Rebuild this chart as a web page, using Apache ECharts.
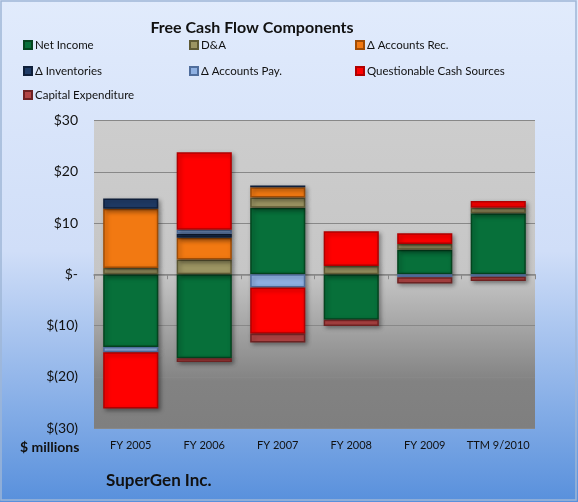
<!DOCTYPE html>
<html>
<head>
<meta charset="utf-8">
<script src="https://cdn.jsdelivr.net/npm/echarts@6/dist/echarts.min.js"></script>
<style>
html,body{margin:0;padding:0;}
body{width:578px;height:502px;overflow:hidden;}
#c{width:578px;height:502px;}
</style>
</head>
<body>
<div id="c"></div>
<script>
const categories = ['FY 2005','FY 2006','FY 2007','FY 2008','FY 2009','TTM 9/2010'];
const netIncome   = [-14.2, -16.4, 13.0, -8.9, 4.8, 11.9];
const dAndA       = [1.2, 2.9, 2.0, 1.6, 1.1, 1.1];
const accountsRec = [11.6, 4.2, 2.0, 0, 0, 0];
const inventories = [2.0, 0.8, 0.3, 0, 0, 0];
const accountsPay = [-1.0, 0.8, -2.6, 0, -0.6, -0.5];
const questionable = [-11.0, 15.1, -9.0, 6.8, 2.1, 1.3];
const capex       = [0, -0.7, -1.7, -1.2, -1.2, -0.8];
const yTicks = [-30, -20, -10, 0, 10, 20, 30];

const FONT = 'Lato';
const seriesDefs = [
  ['Net Income', netIncome, '#07703a', '#04451f'],
  ['D&A', dAndA, '#9c9563', '#5f5a35'],
  ['Δ Accounts Rec.', accountsRec, '#f27912', '#a04c05'],
  ['Δ Inventories', inventories, '#1f3b66', '#0f1f3a'],
  ['Δ Accounts Pay.', accountsPay, '#8eb0e2', '#4f6d9c'],
  ['Questionable Cash Sources', questionable, '#ff0000', '#b00000'],
  ['Capital Expenditure', capex, '#b24545', '#6e2222']
];

const series = seriesDefs.map(([name, vals, col, bcol]) => ({
  name: name,
  type: 'bar',
  stack: 'fcf',
  xAxisIndex: 0,
  barWidth: '75%',
  data: vals.map(v => v === 0 ? '-' : v),
  itemStyle: {
    color: col,
    borderColor: bcol,
    borderWidth: 1.5,
    shadowBlur: 4,
    shadowOffsetX: 2,
    shadowOffsetY: 2,
    shadowColor: 'rgba(0,0,0,0.35)'
  }
}));

// legend positions (3 columns)
const legendPos = [
  [18, 34], [184, 34], [350, 34],
  [18, 60], [184, 60], [350, 60],
  [18, 84]
];
const legends = seriesDefs.map(([name], i) => ({
  data: [name],
  left: legendPos[i][0],
  top: legendPos[i][1],
  itemWidth: 8,
  itemHeight: 8,
  itemGap: 2,
  icon: 'rect',
  selectedMode: false,
  textStyle: { fontFamily: FONT, fontSize: 11.5, color: '#111', padding: [0, 0, 0, -2] }
}));

const fmt = v => v === 0 ? '$-' : (v < 0 ? '$(' + (-v) + ')' : '$' + v);

const chart = echarts.init(document.getElementById('c'), null, { renderer: 'canvas' });
chart.setOption({
  animation: false,
  backgroundColor: {
    type: 'linear', x: 0, y: 0, x2: 0, y2: 1,
    colorStops: [
      { offset: 0, color: '#e1ebfc' },
      { offset: 0.5, color: '#d0def8' },
      { offset: 1, color: '#5890dc' }
    ]
  },
  title: {
    text: 'Free Cash Flow Components',
    left: 247, top: 15, textAlign: 'center',
    textStyle: { fontFamily: FONT, fontSize: 16, fontWeight: 'bold', color: '#111' }
  },
  legend: legends,
  grid: {
    left: 94, right: 43, top: 120.5, bottom: 74,
    show: true,
    borderWidth: 0,
    backgroundColor: {
      type: 'linear', x: 0, y: 0, x2: 0, y2: 1,
      colorStops: [
        { offset: 0, color: '#cdcdcd' },
        { offset: 0.5, color: '#c6c6c6' },
        { offset: 0.85, color: '#828282' },
        { offset: 1, color: '#7f7f7f' }
      ]
    }
  },
  xAxis: [
    {
      type: 'category', data: categories,
      axisLine: { show: false, onZero: false },
      axisTick: { show: false },
      axisLabel: { fontFamily: FONT, fontSize: 11, color: '#111', margin: 12, interval: 0 }
    },
    {
      type: 'category', data: categories,
      position: 'bottom',
      axisLine: { show: true, onZero: true, lineStyle: { color: '#888', width: 1.5 } },
      axisTick: { show: true, length: 5, interval: 0, lineStyle: { color: '#888' } },
      axisLabel: { show: false }
    }
  ],
  yAxis: {
    type: 'value', min: -30, max: 30, interval: 10,
    axisLine: { show: false },
    axisTick: { show: false },
    splitLine: { lineStyle: { color: '#888', width: 1.2 } },
    axisLabel: {
      fontFamily: FONT, fontSize: 14, color: '#111', margin: 16,
      formatter: v => yTicks.includes(v) ? fmt(v) : ''
    }
  },
  graphic: [
    { type: 'text', left: 20, top: 440, style: { text: '$ millions', font: 'bold 14px ' + FONT, fill: '#111' } },
    { type: 'text', left: 106, top: 472, style: { text: 'SuperGen Inc.', font: 'bold 17px ' + FONT, fill: '#111' } },
    { type: 'rect', shape: { x: 1, y: 1, width: 575, height: 499 }, style: { fill: 'none', stroke: '#9fb6d6', lineWidth: 1.5 }, silent: true }
  ],
  series: series
});
</script>
</body>
</html>
